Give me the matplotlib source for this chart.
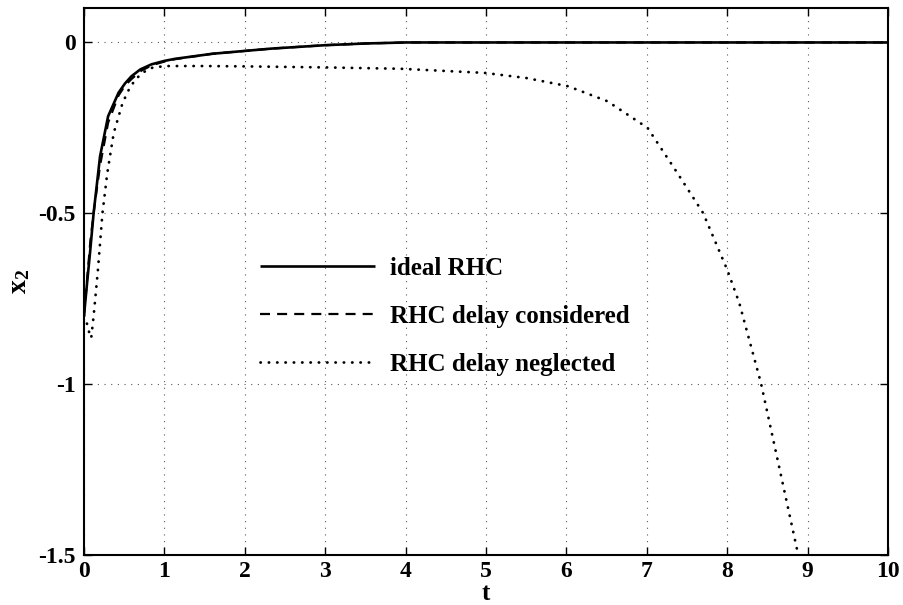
import matplotlib.pyplot as plt
import numpy as np

# values
t_ideal = [0, 0.04, 0.075, 0.12, 0.2, 0.3, 0.43, 0.51, 0.59, 0.7, 0.84, 1.0, 1.13, 1.6, 2.33, 3.0,
           3.5, 4.0, 5.0, 7.0, 10.0]
x2_ideal = [-0.80, -0.70, -0.616, -0.499, -0.333, -0.216, -0.147, -0.120, -0.099, -0.079, -0.064,
            -0.054, -0.048, -0.033, -0.018, -0.008, -0.003, 0.0, 0.0, 0.0, 0.0]

t_cons = [0, 0.04, 0.08, 0.13, 0.2, 0.3, 0.43, 0.51, 0.6, 0.71, 0.85, 1.0, 1.13, 1.6, 2.33, 3.0,
          3.5, 4.0, 5.0, 7.0, 10.0]
x2_cons = [-0.80, -0.69, -0.58, -0.48, -0.36, -0.235, -0.155, -0.126, -0.105, -0.083, -0.066,
           -0.056, -0.049, -0.033, -0.018, -0.008, -0.003, 0.0, 0.0, 0.0, 0.0]

t_negl = [0, 0.03, 0.06, 0.09, 0.12, 0.17, 0.23, 0.29, 0.37, 0.48, 0.56, 0.64, 0.74, 0.85, 1.01,
          1.5, 2.0, 3.0, 3.94, 4.98, 5.5, 6.02, 6.51, 7.01, 7.38, 7.70, 8.0, 8.15, 8.42, 8.87, 8.95]
x2_negl = [-0.80, -0.816, -0.845, -0.865, -0.80, -0.675, -0.499, -0.382, -0.265, -0.177, -0.137,
           -0.108, -0.087, -0.074, -0.069, -0.069, -0.070, -0.073, -0.077, -0.089, -0.104, -0.128,
           -0.172, -0.25, -0.382, -0.499, -0.665, -0.762, -0.997, -1.485, -1.57]

xticks = [0, 1, 2, 3, 4, 5, 6, 7, 8, 9, 10]
yticks = [0, -0.5, -1, -1.5]
ytick_labels = ['0', '-0.5', '-1', '-1.5']

plt.rcParams['font.family'] = 'Liberation Serif'
plt.rcParams['font.weight'] = 'bold'
plt.rcParams['axes.labelweight'] = 'bold'
plt.rcParams['mathtext.fontset'] = 'custom'
plt.rcParams['mathtext.rm'] = 'Liberation Serif:bold'
plt.rcParams['mathtext.bf'] = 'Liberation Serif:bold'
plt.rcParams['mathtext.it'] = 'Liberation Serif:bold'

fig = plt.figure(figsize=(9.04, 6.05), dpi=100)
ax = fig.add_axes([0.0929, 0.0826, 0.8894, 0.9037])

ax.plot(t_ideal, x2_ideal, color='black', lw=1.9, solid_capstyle='butt', label='ideal RHC')
ax.plot(t_cons, x2_cons, color='black', lw=1.6, linestyle=(0, (4.5, 3.2)), label='RHC delay considered')
ax.plot(t_negl, x2_negl, color='black', lw=2.0, linestyle=(0, (0.1, 2.9)),
        dash_capstyle='round', label='RHC delay neglected')

ax.set_xlim(0, 10)
ax.set_ylim(-1.5, 0.1)
ax.set_xticks(xticks)
ax.set_yticks(yticks)
ax.set_yticklabels(ytick_labels)
ax.tick_params(direction='in', length=6, width=1, top=True, right=True, labelsize=17, pad=6)
ax.tick_params(axis='x', pad=4)
for s in ax.spines.values():
    s.set_linewidth(1.5)

ax.grid(True, color='0.35', linestyle=(0, (1, 5)), lw=0.8)

ax.set_xlabel('t', fontsize=18, fontweight='bold', labelpad=0)
ax.set_ylabel(r'$\mathrm{x_2}$', fontsize=20, labelpad=4)

ax.legend(loc='upper left', bbox_to_anchor=(0.219, 0.546), frameon=False, fontsize=18,
          handlelength=4.6, handletextpad=0.6, labelspacing=1.0, borderpad=0, borderaxespad=0)

fig.savefig('out.png', dpi=100)
